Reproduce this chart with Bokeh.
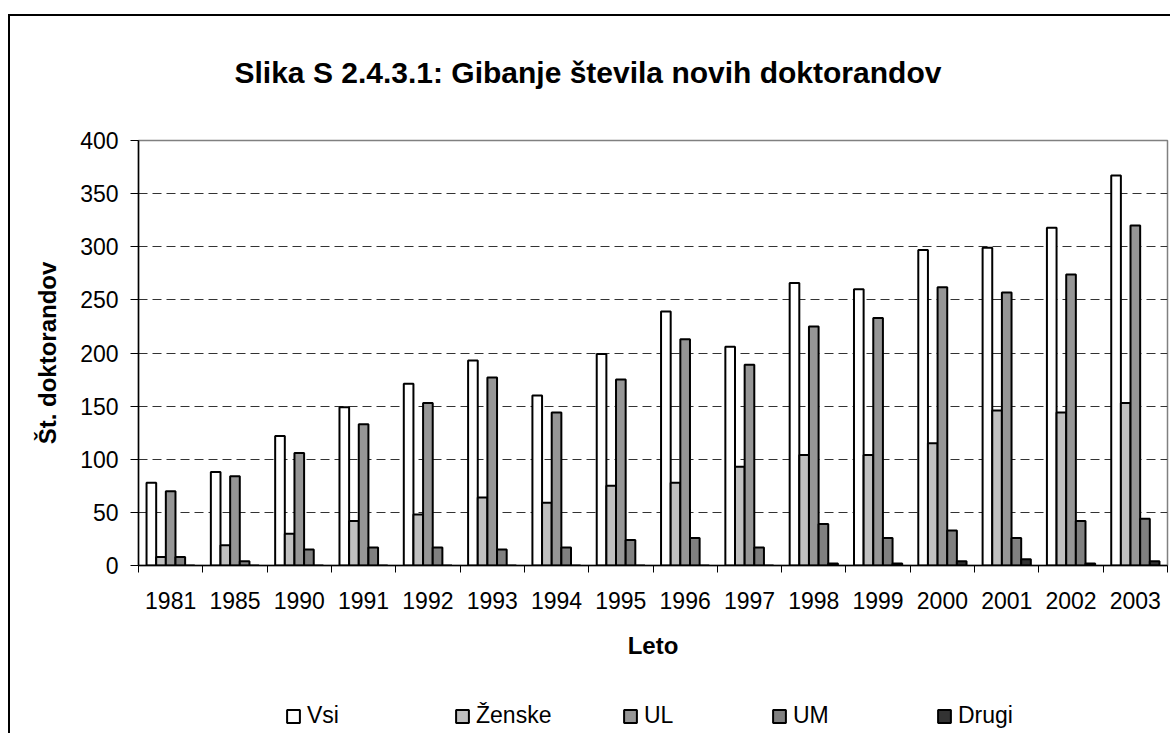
from bokeh.plotting import figure
from bokeh.layouts import column
from bokeh.models import (Range1d, LinearAxis, FixedTicker, Legend, LegendItem, Title)
from bokeh.transform import dodge
from bokeh.embed import file_html
from bokeh.resources import INLINE

years = ["1981", "1985", "1990", "1991", "1992", "1993", "1994", "1995",
         "1996", "1997", "1998", "1999", "2000", "2001", "2002", "2003"]
vsi = [78, 88, 122, 149, 171, 193, 160, 199, 239, 206, 266, 260, 297, 299, 318, 367]
zenske = [8, 19, 30, 42, 48, 64, 59, 75, 78, 93, 104, 104, 115, 146, 144, 153]
ul = [70, 84, 106, 133, 153, 177, 144, 175, 213, 189, 225, 233, 262, 257, 274, 320]
um = [8, 4, 15, 17, 17, 15, 17, 24, 26, 17, 39, 26, 33, 26, 42, 44]
drugi = [0, 0, 0, 0, 0, 0, 0, 0, 0, 0, 2, 2, 4, 6, 2, 4]

series_names = ["Vsi", "Ženske", "UL", "UM", "Drugi"]
series_values = [vsi, zenske, ul, um, drugi]
colors = ["#FFFFFF", "#C0C0C0", "#969696", "#808080", "#333333"]
offsets = [-0.3, -0.15, 0.0, 0.15, 0.3]

FONT = "Liberation Sans"
n = len(years)
H1, H2 = 690, 43

p = figure(x_range=Range1d(-0.5, n - 0.5), y_range=Range1d(0, 400),
           width=1170, height=H1, output_backend="svg", toolbar_location=None,
           x_axis_location=None, y_axis_location="left",
           min_border_left=138, min_border_right=3, min_border_top=140,
           min_border_bottom=H1 - 565)
p.background_fill_color = "white"
p.border_fill_alpha = 0
p.outline_line_color = "#808080"
p.outline_line_width = 1.5
# outer chart-area frame (left and top edges visible in the reference)
p.styles = {"background": f"linear-gradient(#000,#000) 8px 14px / 2px {H1 - 14}px no-repeat, "
                          "linear-gradient(#000,#000) 8px 14px / 1162px 2px no-repeat, #ffffff"}

data = {"pos": list(range(n)), "year": years}
for name, vals in zip(series_names, series_values):
    data[name] = vals

for name, col, off in zip(series_names, colors, offsets):
    p.vbar(x=dodge("pos", off), top=name, width=0.15, bottom=0,
           source=data, fill_color=col, line_color="black", line_width=2)

# y axis
ya = p.yaxis[0]
ya.ticker = FixedTicker(ticks=list(range(0, 401, 50)))
ya.major_label_text_font = FONT
ya.major_label_text_font_size = "23px"
ya.major_label_text_color = "black"
ya.major_tick_out = 8
ya.major_tick_in = 0
ya.minor_tick_line_color = None
ya.axis_line_color = "black"
ya.axis_line_width = 1.5
ya.major_tick_line_color = "black"
ya.major_label_standoff = 12
ya.axis_label = "Št. doktorandov"
ya.axis_label_text_font = FONT
ya.axis_label_text_font_style = "bold"
ya.axis_label_text_font_size = "24px"
ya.axis_label_text_color = "black"
ya.axis_label_standoff = 16

p.ygrid.ticker = FixedTicker(ticks=list(range(50, 400, 50)))
p.ygrid.grid_line_color = "#333333"
p.ygrid.grid_line_dash = "9 5"
p.ygrid.grid_line_width = 1
p.xgrid.grid_line_color = None

# x axis: tick marks between categories (no labels)
bounds = [i - 0.5 for i in range(n + 1)]
tick_axis = LinearAxis(ticker=FixedTicker(ticks=bounds),
                       major_label_overrides={b: "" for b in bounds},
                       major_tick_out=7, major_tick_in=0, minor_tick_line_color=None,
                       axis_line_color="black", axis_line_width=1.5,
                       major_label_standoff=0, major_label_text_font_size="1px")
p.add_layout(tick_axis, "below")
# x axis: year labels at category centres
label_axis = LinearAxis(ticker=FixedTicker(ticks=list(range(n))),
                        major_label_overrides={i: y for i, y in enumerate(years)},
                        axis_line_color=None, major_tick_line_color=None,
                        minor_tick_line_color=None,
                        major_label_text_font=FONT, major_label_text_font_size="23px",
                        major_label_text_color="black", major_label_standoff=13,
                        axis_label="Leto", axis_label_text_font=FONT,
                        axis_label_text_font_style="bold", axis_label_text_font_size="24px",
                        axis_label_text_color="black", axis_label_standoff=20)
p.add_layout(label_axis, "below")

# title
t = Title(text="Slika S 2.4.3.1: Gibanje števila novih doktorandov", align="left",
          text_font=FONT, text_font_size="30px", text_font_style="bold",
          text_color="black", offset=96, standoff=104)
p.add_layout(t, "above")

# legend strip below the chart (its frame is aligned with the main plot's frame)
p2 = figure(width=1170, height=H2, x_range=Range1d(0, 1), y_range=Range1d(0, 1),
            output_backend="svg", toolbar_location=None,
            x_axis_location=None, y_axis_location=None, min_border=0)
p2.title.visible = False
p2.outline_line_color = None
p2.background_fill_alpha = 0
p2.border_fill_alpha = 0
p2.styles = {"background": f"linear-gradient(#000,#000) 8px 0px / 2px {H2}px no-repeat, #ffffff"}
for g in p2.grid:
    g.visible = False

legend_x = [147, 316, 484, 633, 798]
for name, col, off, lx in zip(series_names, colors, offsets, legend_x):
    proxy = p2.vbar(x=dodge("pos", off), top=name, width=0.15, source=data,
                    fill_color=col, line_color="black", line_width=2, visible=False)
    lg = Legend(items=[LegendItem(label=name, renderers=[proxy])], location=(lx, 4),
                orientation="horizontal", glyph_width=16, glyph_height=16,
                label_text_font=FONT, label_text_font_size="23px", label_standoff=6,
                padding=0, margin=0, spacing=0, border_line_color=None,
                background_fill_alpha=0, label_height=24, label_text_color="black")
    p2.add_layout(lg, "center")

layout = column(p, p2, spacing=0)
open("out.html", "w").write(file_html(layout, INLINE))
